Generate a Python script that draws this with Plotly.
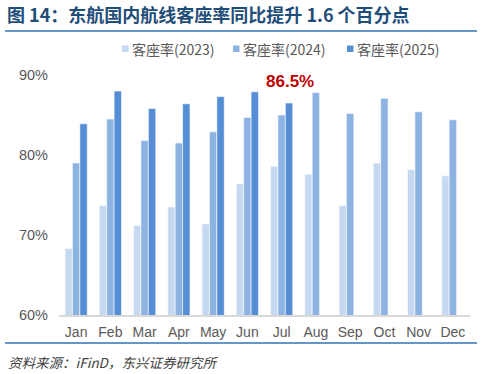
import plotly.graph_objects as go

months = ["Jan", "Feb", "Mar", "Apr", "May", "Jun", "Jul", "Aug", "Sep", "Oct", "Nov", "Dec"]
lf_2023 = [68.3, 73.7, 71.2, 73.5, 71.4, 76.4, 78.6, 77.6, 73.7, 79.0, 78.2, 77.4]
lf_2024 = [79.0, 84.5, 81.8, 81.5, 82.9, 84.7, 85.0, 87.8, 85.2, 87.1, 85.4, 84.4]
lf_2025 = [83.9, 88.0, 85.8, 86.4, 87.3, 87.9, 86.5]

names = ["客座率(2023)", "客座率(2024)", "客座率(2025)"]
colors = ["#C6D9F0", "#8DB3E2", "#558ED5"]
series = [lf_2023, lf_2024, lf_2025]

CJK = "Noto Sans CJK SC"
GRAY = "#595959"

fig = go.Figure()
for name, color, vals in zip(names, colors, series):
    fig.add_trace(go.Bar(
        x=months[:len(vals)], y=vals, name=name,
        marker=dict(color=color, line=dict(color="white", width=0.6)),
    ))

L, R, T, B = 59, 22, 75, 59
W, H = 492, 374
pw, ph = W - L - R, H - T - B

def px(x):
    return (x - L) / pw

def py(y):
    return (H - B - y) / ph

fig.update_layout(
    width=W, height=H,
    margin=dict(l=L, r=R, t=T, b=B),
    paper_bgcolor="white", plot_bgcolor="white",
    barmode="group", bargap=0.35, bargroupgap=0,
    font=dict(family=CJK, color=GRAY, size=12),
    showlegend=False,
    xaxis=dict(
        categoryorder="array", categoryarray=months,
        showline=True, linecolor="#D9D9D9", linewidth=1.5,
        ticks="", tickfont=dict(family="Liberation Sans, Arial", size=14, color=GRAY),
        showgrid=False, ticklabelstandoff=3,
    ),
    yaxis=dict(
        range=[60, 90], tickvals=[60, 70, 80, 90],
        ticktext=["60%", "70%", "80%", "90%"],
        showgrid=False, zeroline=False, showline=False,
        tickfont=dict(family="Liberation Sans, Arial", size=14.5, color=GRAY),
        ticks="", ticklen=0, ticklabelstandoff=10,
    ),
)

# legend (drawn manually to match the compact spacing)
legend_x = [122, 233, 347]
for lx, name, color in zip(legend_x, names, colors):
    fig.add_shape(type="rect", xref="paper", yref="paper",
                  x0=px(lx), x1=px(lx + 6.5), y0=py(45.5), y1=py(52),
                  fillcolor=color, line=dict(width=0))
    fig.add_annotation(
        xref="paper", yref="paper", x=px(lx + 8), y=py(48.5),
        xanchor="left", yanchor="middle", text=name, showarrow=False,
        font=dict(family=CJK, size=14, color=GRAY),
    )

# title
fig.add_annotation(
    xref="paper", yref="paper", x=px(5), y=py(14), xanchor="left", yanchor="middle",
    text="<b>图 14：东航国内航线客座率同比提升 1.6 个百分点</b>",
    showarrow=False, font=dict(family=CJK, size=18, color="#1F4E79"),
)
# lines
fig.add_shape(type="line", xref="paper", yref="paper",
              x0=px(5), x1=px(477), y0=py(31), y1=py(31),
              line=dict(color="#2E75B6", width=1.5))
fig.add_shape(type="line", xref="paper", yref="paper",
              x0=px(5), x1=px(477), y0=py(343), y1=py(343),
              line=dict(color="#2E75B6", width=1.5))
# source
fig.add_annotation(
    xref="paper", yref="paper", x=px(6), y=py(362), xanchor="left", yanchor="middle",
    text="<i>资料来源：iFinD，东兴证券研究所</i>",
    showarrow=False, font=dict(family=CJK, size=13.5, color="#404040"),
)
# highlight label
fig.add_annotation(
    x="Jul", y=lf_2025[6], xref="x", yref="y", xshift=8, yshift=10,
    yanchor="bottom", text="<b>86.5%</b>", showarrow=False,
    font=dict(family="Liberation Sans, Arial", size=17, color="#C00000"),
)

fig.write_html("out.html")
